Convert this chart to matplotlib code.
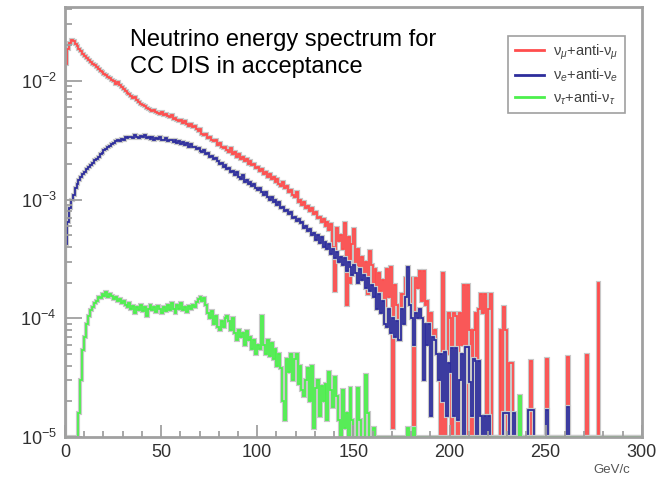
import numpy as np
import matplotlib
matplotlib.use("Agg")
import matplotlib.pyplot as plt
import matplotlib.patheffects as pe
from matplotlib.lines import Line2D
from matplotlib.ticker import LogLocator, NullFormatter, MultipleLocator

plt.rcParams['font.family'] = ['Liberation Sans', 'DejaVu Sans']
plt.rcParams['mathtext.fontset'] = 'custom'
plt.rcParams['mathtext.rm'] = 'Liberation Sans'
plt.rcParams['mathtext.it'] = 'Liberation Sans:italic'

# bin contents in units of 1e-6, one bin per GeV/c from 0 to 300
unit = 1e-6
edges = np.arange(0, 301, 1)

numu = [
    14000, 18500, 21000, 22000, 21500, 20500, 19500, 18500, 17800, 17000,
    16200, 15600, 15000, 14500, 14000, 13600, 13000, 12700, 12200, 11900,
    11500, 11300, 10800, 10600, 10200, 10000, 9500, 9700, 9200, 8800,
    8600, 8200, 7900, 7800, 7500, 7200, 7300, 6900, 6700, 6400,
    6300, 6200, 5900, 5800, 5700, 5600, 5700, 5500, 5400, 5300,
    5500, 5200, 5300, 5100, 5000, 5200, 4800, 4900, 4700, 4600,
    4700, 4400, 4600, 4300, 4200, 4300, 4100, 4200, 3900, 3800,
    3900, 3600, 3500, 3600, 3300, 3400, 3200, 3100, 3200, 2900,
    3000, 2800, 2700, 2800, 2600, 2500, 2700, 2400, 2500, 2300,
    2400, 2200, 2300, 2100, 2200, 2000, 2100, 1950, 2000, 1850,
    1900, 1750, 1800, 1650, 1700, 1550, 1650, 1500, 1550, 1400,
    1500, 1350, 1300, 1400, 1250, 1300, 1150, 1200, 1100, 1050,
    1150, 950, 1000, 900, 950, 850, 880, 800, 850, 750,
    780, 700, 720, 650, 690, 600, 650, 550, 620, 400,
    170, 580, 450, 500, 380, 630, 130, 480, 200, 420,
    570, 280, 380, 250, 330, 220, 300, 160, 370, 280,
    200, 260, 130, 240, 170, 210, 110, 260, 150, 270,
    12, 190, 130, 100, 120, 160, 90, 220, 150, 220,
    100, 12, 220, 180, 250, 140, 250, 130, 140, 90,
    110, 60, 80, 50, 30, 0, 240, 0, 50, 110,
    100, 0, 110, 105, 0, 110, 60, 190, 0, 190,
    80, 0, 80, 110, 0, 120, 160, 110, 160, 0,
    120, 160, 0, 0, 0, 0, 80, 0, 125, 80,
    0, 42, 42, 0, 0, 0, 0, 0, 0, 0,
    0, 0, 44, 0, 0, 0, 0, 0, 0, 0,
    45, 0, 0, 0, 0, 0, 0, 0, 0, 0,
    0, 47, 0, 0, 0, 0, 0, 0, 0, 0,
    0, 49, 0, 0, 0, 0, 0, 200, 0, 0,
    0, 0, 0, 0, 0, 0, 0, 0, 0, 0,
    0, 0, 0, 0, 0, 0, 0, 0, 0, 0,
]

nue = [
    420, 650, 850, 1000, 1100, 1250, 1350, 1450, 1550, 1650,
    1700, 1800, 1900, 1950, 2050, 2150, 2200, 2300, 2400, 2450,
    2600, 2650, 2800, 2850, 2950, 3000, 3100, 3150, 3100, 3250,
    3200, 3350, 3300, 3400, 3350, 3300, 3500, 3400, 3300, 3450,
    3350, 3500, 3300, 3400, 3250, 3350, 3200, 3300, 3250, 3350,
    3200, 3150, 3300, 3100, 3200, 3150, 3050, 3200, 3000, 3100,
    2950, 3050, 2900, 3000, 2800, 2950, 2750, 2800, 2650, 2700,
    2550, 2500, 2600, 2400, 2450, 2300, 2350, 2200, 2250, 2100,
    2000, 2050, 1900, 1950, 1800, 1850, 1700, 1750, 1600, 1700,
    1550, 1500, 1600, 1400, 1450, 1350, 1400, 1300, 1350, 1250,
    1200, 1250, 1150, 1100, 1150, 1050, 1000, 1050, 950, 1000,
    900, 950, 850, 870, 800, 820, 760, 780, 700, 720,
    660, 690, 630, 650, 580, 600, 540, 570, 500, 520,
    460, 500, 430, 480, 400, 440, 380, 420, 350, 380,
    320, 360, 300, 330, 280, 320, 250, 300, 270, 230,
    280, 240, 200, 260, 210, 230, 180, 220, 170, 190,
    150, 180, 120, 160, 110, 140, 90, 85, 120, 75,
    100, 70, 95, 65, 65, 120, 90, 150, 270, 130,
    100, 60, 110, 100, 120, 100, 30, 90, 60, 90,
    15, 70, 65, 50, 30, 50, 20, 52, 15, 42,
    35, 56, 15, 56, 14, 30, 50, 0, 57, 57,
    29, 15, 45, 44, 0, 44, 15, 0, 15, 0,
    15, 0, 0, 0, 0, 0, 0, 0, 16, 16,
    16, 0, 0, 16, 0, 0, 0, 0, 0, 0,
    0, 17, 17, 17, 0, 0, 0, 0, 0, 0,
    17, 0, 0, 0, 0, 0, 0, 0, 0, 0,
    0, 18, 0, 0, 0, 0, 0, 0, 0, 0,
    0, 0, 0, 0, 0, 0, 0, 0, 0, 0,
    0, 0, 0, 0, 0, 0, 0, 0, 0, 0,
    0, 0, 0, 0, 0, 0, 0, 0, 0, 0,
]

nutau = [
    0, 0, 0, 0, 0, 0, 0, 16, 30, 54,
    70, 90, 105, 117, 125, 135, 140, 150, 148, 160,
    155, 165, 150, 160, 155, 145, 150, 140, 145, 135,
    140, 130, 125, 135, 120, 128, 110, 125, 118, 130,
    115, 125, 105, 120, 130, 118, 125, 112, 128, 120,
    110, 125, 115, 130, 118, 135, 120, 110, 130, 120,
    135, 118, 125, 112, 128, 120, 130, 125, 138, 145,
    150, 140, 148, 130, 110, 100, 115, 90, 105, 85,
    80, 95, 85, 100, 105, 95, 80, 100, 75, 65,
    80, 70, 75, 60, 78, 65, 70, 55, 65, 50,
    60, 55, 105, 60, 50, 65, 48, 62, 45, 55,
    40, 50, 38, 20, 14, 45, 35, 50, 30, 45,
    50, 28, 40, 25, 22, 30, 38, 20, 40, 12,
    26, 30, 15, 27, 20, 28, 14, 35, 25, 18,
    32, 22, 14, 0, 25, 12, 16, 0, 26, 14,
    0, 0, 26, 14, 0, 0, 33, 16, 0, 0,
    12, 0, 0, 0, 0, 0, 0, 0, 0, 0,
    0, 0, 0, 0, 0, 0, 0, 0, 12, 0,
    0, 12, 0, 0, 0, 0, 0, 0, 0, 0,
    0, 0, 0, 0, 0, 0, 0, 0, 0, 0,
    0, 0, 0, 0, 0, 0, 0, 0, 0, 0,
    0, 0, 0, 0, 0, 0, 0, 0, 0, 0,
    0, 0, 0, 0, 0, 0, 0, 0, 0, 0,
    0, 0, 0, 0, 0, 0, 22, 0, 0, 0,
    0, 0, 0, 0, 0, 0, 0, 0, 0, 0,
    0, 0, 0, 0, 0, 0, 0, 0, 0, 0,
    0, 0, 0, 0, 0, 0, 0, 0, 0, 0,
    0, 0, 0, 0, 0, 0, 0, 0, 0, 0,
    0, 0, 0, 0, 0, 0, 0, 0, 0, 0,
    0, 0, 0, 0, 0, 0, 0, 0, 0, 0,
]

labels = [r'ν$_{\mu}$+anti-ν$_{\mu}$', r'ν$_{e}$+anti-ν$_{e}$', r'ν$_{\tau}$+anti-ν$_{\tau}$']
colors = ['#ff4d4d', '#2d2d9c', '#4cf04c']

ymin, ymax = 1e-5, 0.042

fig = plt.figure(figsize=(6.63, 4.8), dpi=100)
ax = fig.add_axes([0.098, 0.0896, 0.870, 0.896])

halo = [pe.Stroke(linewidth=3.0, foreground='#c8c8c8'), pe.Normal()]
for vals, col in zip([numu, nue, nutau], colors):
    v = np.array(vals, dtype=float) * unit
    v = np.where(v > 0, v, ymin)  # empty bins sit on the frame, as in ROOT
    ax.stairs(v, edges, baseline=ymin, color=col, linewidth=1.3,
              path_effects=halo)

ax.set_yscale('log')
ax.set_xlim(0, 300)
ax.set_ylim(ymin, ymax)

ax.xaxis.set_major_locator(MultipleLocator(50))
ax.xaxis.set_minor_locator(MultipleLocator(10))
ax.yaxis.set_minor_locator(LogLocator(base=10, subs=np.arange(2, 10)))
ax.yaxis.set_minor_formatter(NullFormatter())

for s in ax.spines.values():
    s.set_color('#a0a0a0')
    s.set_linewidth(2)

ax.tick_params(which='both', direction='in', color='#a0a0a0', width=1.3,
               labelcolor='#303030', labelsize=13, top=False, right=False)
ax.tick_params(axis='x', which='major', length=9, pad=5)
ax.tick_params(axis='x', which='minor', length=4)
ax.tick_params(axis='y', which='major', length=12, pad=6)
ax.tick_params(axis='y', which='minor', length=5)

fig.text(0.95, 0.021, 'GeV/c', ha='right', va='center', fontsize=9.5, color='#555555')

ax.text(0.113, 0.948, 'Neutrino energy spectrum for\nCC DIS in acceptance',
        transform=ax.transAxes, ha='left', va='top', fontsize=17,
        linespacing=1.25, color='black')

handles = [Line2D([], [], color=c, linewidth=2) for c in colors]
leg = ax.legend(handles, labels, loc='upper left', bbox_to_anchor=(0.756, 0.95),
                fontsize=10.5, handlelength=2.0, handletextpad=0.6,
                labelspacing=0.35, borderpad=0.45, fancybox=False,
                framealpha=1, edgecolor='#a0a0a0')
leg.get_frame().set_linewidth(1.2)
for t in leg.get_texts():
    t.set_color('#404040')

fig.savefig('out.png', dpi=100)
